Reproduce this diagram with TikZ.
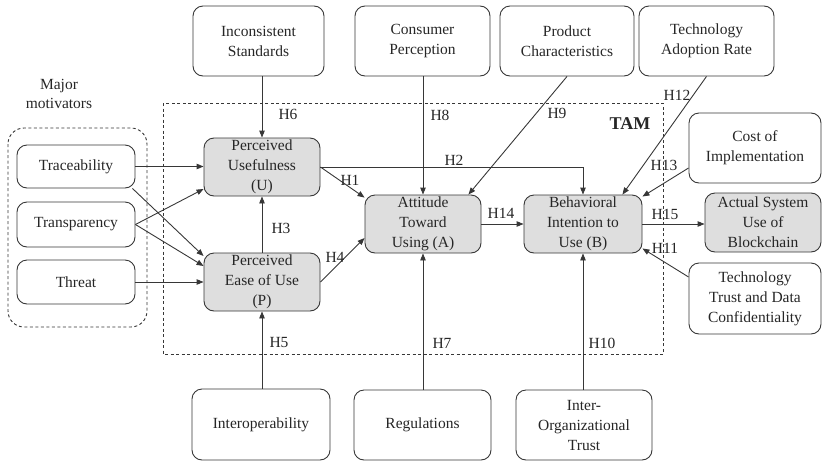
\documentclass[tikz,border=0pt]{standalone}
\usepackage{fontspec}
\setmainfont{Liberation Serif}
\usetikzlibrary{arrows.meta}
\definecolor{linec}{RGB}{55,55,55}
\definecolor{corefill}{RGB}{222,222,222}
\tikzset{
  box/.style={draw=linec, line width=0.9pt, rounded corners=10pt, align=center, inner sep=1pt,
    font=\fontsize{15.5}{20}\selectfont, text=black!85},
  corebox/.style={box, fill=corefill},
  conn/.style={draw=linec, line width=0.9pt, -{Triangle[length=7pt,width=5.5pt]}},
  hlab/.style={font=\fontsize{15.5}{18}\selectfont, text=black!85, inner sep=0pt},
  dashbox/.style={draw=linec, line width=0.9pt, dash pattern=on 3pt off 2.5pt}
}
\begin{document}
\begin{tikzpicture}[x=1pt,y=-1pt]
\useasboundingbox (0,0) rectangle (822,461);
% group frames
\draw[dashbox] (163,103) rectangle (663,354);
\draw[dashbox, rounded corners=16pt] (8,128) rectangle (147,327);
\node[hlab, align=center, font=\fontsize{15.5}{19}\selectfont] (mm) at (59,94) {Major\\motivators};
\node[hlab, font=\bfseries\fontsize{18}{20}\selectfont] (tam) at (630,124) {TAM};
% top boxes
\node[box, minimum width=131pt, minimum height=70pt] (incon) at (258.5,41) {Inconsistent\\Standards};
\node[box, minimum width=135pt, minimum height=70pt] (consumer) at (422.5,41) {Consumer\\Perception};
\node[box, minimum width=134pt, minimum height=70pt] (product) at (567,41) {Product\\Characteristics};
\node[box, minimum width=135pt, minimum height=70pt] (techadopt) at (706.5,41) {Technology\\Adoption Rate};
% motivators
\node[box, minimum width=118pt, minimum height=43pt] (trace) at (76,166.5) {Traceability};
\node[box, minimum width=118pt, minimum height=45pt] (transp) at (76,224.5) {Transparency};
\node[box, minimum width=118pt, minimum height=44pt] (threat) at (76,282) {Threat};
% core
\node[corebox, minimum width=116pt, minimum height=58pt] (PU) at (262,167) {Perceived\\Usefulness\\(U)};
\node[corebox, minimum width=116pt, minimum height=58pt] (PEOU) at (262,282) {Perceived\\Ease of Use\\(P)};
\node[corebox, minimum width=116pt, minimum height=58pt] (ATT) at (423,224) {Attitude\\Toward\\Using (A)};
\node[corebox, minimum width=118pt, minimum height=58pt] (BI) at (583,224) {Behavioral\\Intention to\\Use (B)};
\node[corebox, minimum width=116pt, minimum height=59pt] (ASU) at (763,222.5) {Actual System\\Use of\\Blockchain};
% right boxes
\node[box, minimum width=132pt, minimum height=70pt] (cost) at (755,148) {Cost of\\Implementation};
\node[box, minimum width=132pt, minimum height=71pt] (ttrust) at (755,298.5) {Technology\\Trust and Data\\Confidentiality};
% bottom boxes
\node[box, minimum width=138pt, minimum height=71pt] (interop) at (261,424.5) {Interoperability};
\node[box, minimum width=137pt, minimum height=70pt] (reg) at (422.5,425) {Regulations};
\node[box, minimum width=136pt, minimum height=70pt] (interorg) at (584,425) {Inter-\\Organizational\\Trust};
% connectors
\draw[conn] (PU.north |- incon.south) -- (PU.north);
\draw[conn] (trace.east) -- (PU.west |- trace.east);
\draw[conn] ([xshift=-3pt]trace.south east) -- ([yshift=26pt]PEOU.west);
\draw[conn] (transp.east) -- ([yshift=-22pt]PU.west);
\draw[conn] (transp.east) -- ([yshift=16pt]PEOU.west);
\draw[conn] (threat.east) -- (PEOU.west |- threat.east);
\draw[conn] (PEOU.north) -- (PU.south);
\draw[conn] (PEOU.south |- interop.north) -- (PEOU.south);
\draw[conn] (PU.east) -- ([yshift=-3pt]ATT.north west);
\draw[conn] (PU.east) -| (BI.north);
\draw[conn] (PEOU.east) -- ([yshift=-14pt]ATT.west);
\draw[conn] (ATT.north |- consumer.south) -- (ATT.north);
\draw[conn] (product.south) -- ([xshift=-13pt]ATT.north east);
\draw[conn] (techadopt.south) -- ([xshift=-20pt]BI.north east);
\draw[conn] ([yshift=-20pt]cost.west) -- ([yshift=-2pt]BI.north east);
\draw[conn] (ATT.east) -- (BI.west);
\draw[conn] (BI.east) -- (ASU.west |- BI.east);
\draw[conn] ([yshift=21.5pt]ttrust.west) -- ([yshift=5pt]BI.south east);
\draw[conn] (ATT.south |- reg.north) -- (ATT.south);
\draw[conn] (BI.south |- interorg.north) -- (BI.south);
% hypothesis labels
\node[hlab] (h1) at (350,180) {H1};
\node[hlab] (h2) at (454,160) {H2};
\node[hlab] (h3) at (281,228) {H3};
\node[hlab] (h4) at (335,257) {H4};
\node[hlab] (h5) at (279,342) {H5};
\node[hlab] (h6) at (288,114) {H6};
\node[hlab] (h7) at (442,343) {H7};
\node[hlab] (h8) at (440,115) {H8};
\node[hlab] (h9) at (557,113) {H9};
\node[hlab] (h10) at (602,343) {H10};
\node[hlab] (h11) at (665,248) {H11};
\node[hlab] (h12) at (677,95) {H12};
\node[hlab] (h13) at (664,165) {H13};
\node[hlab] (h14) at (501,213) {H14};
\node[hlab] (h15) at (665,214) {H15};
\end{tikzpicture}
\end{document}
